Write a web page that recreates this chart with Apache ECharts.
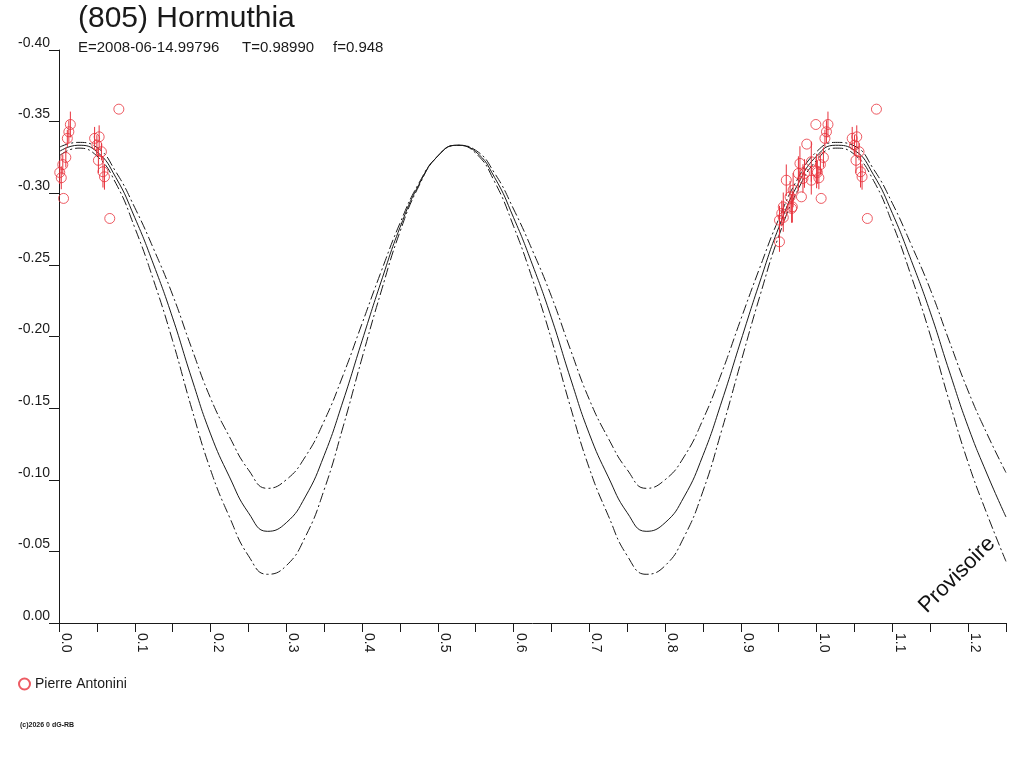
<!DOCTYPE html>
<html>
<head>
<meta charset="utf-8">
<title>(805) Hormuthia</title>
<script src="https://cdn.jsdelivr.net/npm/echarts@6/dist/echarts.min.js"></script>
<style>
  html, body { margin: 0; padding: 0; background: #fff; }
  #chart { width: 1024px; height: 768px; }
</style>
</head>
<body>
<div id="chart"></div>
<script>
// ----------------------- données -------------------
var titleText = '(805) Hormuthia';
var infoTexts = ['E=2008-06-14.99796', 'T=0.98990', 'f=0.948'];
var observer = 'Pierre Antonini';

// phases des courbes
var curvePhase = [
  0.000, 0.025, 0.050, 0.075, 0.100, 0.125, 0.150, 0.175, 0.200, 0.225,
  0.250, 0.275, 0.300, 0.325, 0.350, 0.375, 0.400, 0.425, 0.450, 0.475,
  0.500, 0.525, 0.550, 0.575, 0.600, 0.625, 0.650, 0.675, 0.700, 0.725,
  0.750, 0.775, 0.800, 0.825, 0.850, 0.875, 0.900, 0.925, 0.950, 0.975,
  1.000, 1.025, 1.050, 1.075, 1.100, 1.125, 1.150, 1.175, 1.200, 1.225,
  1.250
];
// courbe ajustée (trait plein)
var fitMag = [
  -0.329, -0.3335, -0.329, -0.311, -0.283, -0.250, -0.213, -0.171, -0.132, -0.102,
  -0.077, -0.064, -0.070, -0.088, -0.117, -0.155, -0.197, -0.238, -0.276, -0.306,
  -0.326, -0.3335, -0.329, -0.311, -0.283, -0.250, -0.213, -0.171, -0.132, -0.102,
  -0.077, -0.064, -0.070, -0.088, -0.117, -0.155, -0.197, -0.238, -0.276, -0.306,
  -0.326, -0.3335, -0.330, -0.313, -0.286, -0.253, -0.217, -0.176, -0.137, -0.104,
  -0.074
];
// enveloppe haute (tirets)
var upperMag = [
  -0.332, -0.3355, -0.332, -0.315, -0.290, -0.261, -0.229, -0.192, -0.157, -0.130,
  -0.107, -0.094, -0.100, -0.116, -0.141, -0.173, -0.209, -0.245, -0.279, -0.307,
  -0.326, -0.3335, -0.330, -0.314, -0.289, -0.260, -0.228, -0.191, -0.156, -0.129,
  -0.107, -0.094, -0.100, -0.116, -0.142, -0.175, -0.212, -0.248, -0.282, -0.310,
  -0.329, -0.3355, -0.333, -0.317, -0.293, -0.264, -0.233, -0.197, -0.162, -0.132,
  -0.105
];
// enveloppe basse (tirets)
var lowerMag = [
  -0.326, -0.3315, -0.326, -0.307, -0.276, -0.239, -0.197, -0.150, -0.107, -0.074,
  -0.047, -0.034, -0.040, -0.060, -0.093, -0.137, -0.185, -0.231, -0.273, -0.305,
  -0.326, -0.3335, -0.328, -0.308, -0.277, -0.240, -0.198, -0.151, -0.108, -0.075,
  -0.047, -0.034, -0.040, -0.060, -0.092, -0.135, -0.182, -0.228, -0.270, -0.302,
  -0.323, -0.3315, -0.327, -0.309, -0.279, -0.242, -0.201, -0.155, -0.112, -0.076,
  -0.043
];

// mesures : phase, magnitude relative, erreur
var obsPhase = [
  0.001, 0.003, 0.005, 0.006, 0.009, 0.011, 0.013, 0.015,
  0.047, 0.050, 0.053, 0.056, 0.052, 0.058, 0.060, 0.067, 0.079,
  0.951, 0.951, 0.956, 0.954, 0.956, 0.960, 0.965, 0.967, 0.968, 0.969,
  0.976, 0.978, 0.980, 0.982, 0.984, 0.987, 0.993, 0.993, 0.999, 1.000
];
var obsMag = [
  -0.3145, -0.3108, -0.3200, -0.2964, -0.3250, -0.3383, -0.3429, -0.3480,
  -0.3383, -0.3336, -0.3394, -0.3290, -0.3230, -0.3150, -0.3115, -0.2824, -0.3587,
  -0.2661, -0.2812, -0.2831, -0.2859, -0.2905, -0.3091, -0.2975, -0.2894, -0.2905, -0.3022,
  -0.3138, -0.3208, -0.2975, -0.3103, -0.3138, -0.3343, -0.3220, -0.3091, -0.3480, -0.3155
];
var obsErr = [
  0.008, 0.008, 0.007, 0.000, 0.007, 0.006, 0.008, 0.009,
  0.008, 0.007, 0.008, 0.006, 0.009, 0.011, 0.009, 0.000, 0.000,
  0.007, 0.010, 0.010, 0.009, 0.010, 0.011, 0.011, 0.010, 0.011, 0.012,
  0.012, 0.012, 0.000, 0.010, 0.010, 0.000, 0.014, 0.010, 0.000, 0.012
];

var xMax = 1.25;
var red = '#e8323c';
var ink = '#1a1a1a';
var font = '"Liberation Sans", Arial, sans-serif';

// ----------------------- préparation -------------------
function pairs(xs, ys) {
  var out = [];
  for (var i = 0; i < xs.length; i++) out.push([xs[i], ys[i]]);
  return out;
}

// chaque mesure est aussi tracée à phase + 1 tant que l'axe le permet
var pts = [], bars = [];
for (var i = 0; i < obsPhase.length; i++) {
  var shifts = [0, 1];
  for (var s = 0; s < shifts.length; s++) {
    var ph = obsPhase[i] + shifts[s];
    if (ph > xMax) continue;
    pts.push([ph, obsMag[i]]);
    if (obsErr[i] > 0) bars.push([ph, obsMag[i] - obsErr[i], obsMag[i] + obsErr[i]]);
  }
}

var chart = echarts.init(document.getElementById('chart'));

var option = {
  animation: false,
  backgroundColor: '#fff',
  grid: { left: 59, right: 18, top: 50, bottom: 145 },
  legend: {
    data: [observer],
    left: 18, top: 677, padding: 0,
    itemWidth: 11, itemHeight: 11, itemGap: 10,
    textStyle: { color: ink, fontSize: 14, fontFamily: font }
  },
  xAxis: {
    type: 'value',
    min: 0, max: xMax, interval: 0.05,
    axisLine: { show: true, lineStyle: { color: ink, width: 1 } },
    axisTick: { show: true, length: 9, lineStyle: { color: ink } },
    splitLine: { show: false },
    axisLabel: {
      rotate: -90, margin: 10, align: 'left', verticalAlign: 'bottom',
      color: ink, fontSize: 14, fontFamily: font,
      formatter: function (v) {
        var k = Math.round(v * 20);
        return k % 2 === 0 ? v.toFixed(1) : '';
      }
    }
  },
  yAxis: {
    type: 'value',
    inverse: true,
    min: -0.4, max: 0, interval: 0.05,
    axisLine: { show: true, lineStyle: { color: ink, width: 1 } },
    axisTick: { show: true, length: 10, lineStyle: { color: ink } },
    splitLine: { show: false },
    axisLabel: {
      margin: 9, verticalAlign: 'bottom',
      color: ink, fontSize: 14, fontFamily: font,
      formatter: function (v) { return v.toFixed(2); }
    }
  },
  series: [
    {
      name: 'fit', type: 'line', smooth: true, showSymbol: false, z: 2,
      lineStyle: { color: ink, width: 1 },
      data: pairs(curvePhase, fitMag)
    },
    {
      name: 'upper', type: 'line', smooth: true, showSymbol: false, z: 2,
      lineStyle: { color: ink, width: 1, type: [10, 3, 2, 3] },
      data: pairs(curvePhase, upperMag)
    },
    {
      name: 'lower', type: 'line', smooth: true, showSymbol: false, z: 2,
      lineStyle: { color: ink, width: 1, type: [10, 3, 2, 3] },
      data: pairs(curvePhase, lowerMag)
    },
    {
      name: 'err', type: 'custom', z: 4,
      renderItem: function (params, api) {
        var a = api.coord([api.value(0), api.value(1)]);
        var b = api.coord([api.value(0), api.value(2)]);
        return {
          type: 'line',
          shape: { x1: a[0], y1: a[1], x2: b[0], y2: b[1] },
          style: { stroke: red, lineWidth: 1 }
        };
      },
      data: bars
    },
    {
      name: observer, type: 'scatter', z: 5,
      symbol: 'circle', symbolSize: 10,
      itemStyle: { color: 'rgba(0,0,0,0)', borderColor: red, borderWidth: 1 },
      data: pts
    }
  ],
  graphic: [
    {
      type: 'text', left: 78, top: 4,
      style: { text: titleText, fill: ink, font: '30px ' + font }
    },
    {
      type: 'text', left: 78, top: 40,
      style: { text: infoTexts[0], fill: ink, font: '15px ' + font }
    },
    {
      type: 'text', left: 242, top: 40,
      style: { text: infoTexts[1], fill: ink, font: '15px ' + font }
    },
    {
      type: 'text', left: 333, top: 40,
      style: { text: infoTexts[2], fill: ink, font: '15px ' + font }
    },
    {
      type: 'text', x: 957, y: 575, rotation: Math.PI / 4,
      style: { text: 'Provisoire', fill: '#111', font: '22px ' + font, align: 'center', verticalAlign: 'middle' }
    },
    {
      type: 'text', left: 20, top: 722,
      style: { text: '(c)2026 0 dG-RB', fill: ink, font: 'bold 7px ' + font }
    }
  ]
};

chart.setOption(option);
</script>
</body>
</html>
